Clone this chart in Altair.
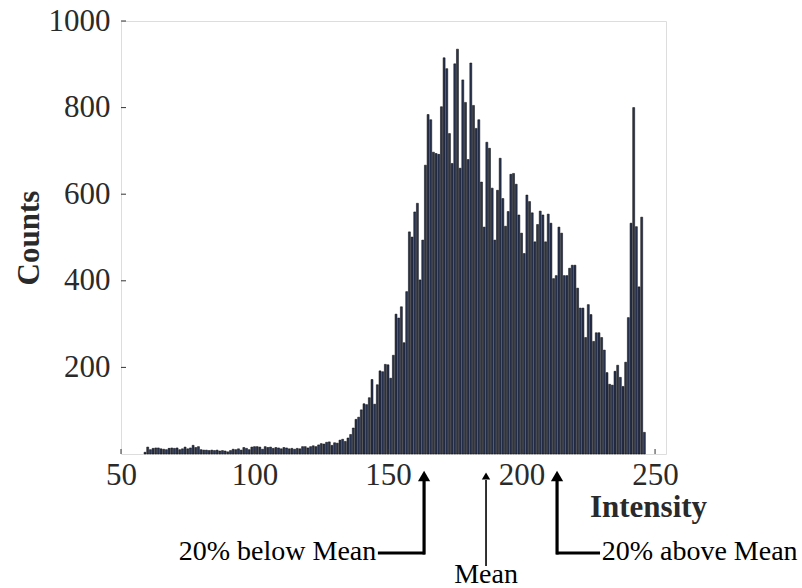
import altair as alt
import pandas as pd

# Intensity bins (integer grey levels) and their counts
intensity = list(range(59, 247))
counts = [
    4, 16, 10, 13, 14, 14, 12, 11, 10, 13, 14, 13, 14, 10, 12, 16, 12, 14, 20, 15,   # 59-78
    17, 10, 9, 9, 8, 9, 8, 9, 7, 8, 7, 5, 8, 11, 10, 12, 9, 15, 13, 10,              # 79-98
    16, 17, 17, 16, 11, 17, 15, 16, 13, 15, 14, 12, 15, 14, 12, 13, 11, 13, 12, 17,  # 99-118
    17, 14, 17, 19, 17, 21, 24, 23, 27, 28, 20, 26, 25, 32, 34, 29, 37, 45, 60, 80,  # 119-138
    85, 102, 116, 114, 130, 172, 115, 160, 192, 190, 207, 206, 175, 228, 323, 314,   # 139-154
    340, 257, 375, 513, 501, 559, 579, 402, 494, 667, 784, 772, 697, 694, 692, 802,  # 155-170
    915, 890, 740, 671, 901, 935, 660, 864, 812, 680, 903, 805, 752, 772, 628, 524,  # 171-186
    720, 706, 614, 494, 609, 683, 590, 526, 560, 646, 648, 623, 552, 510, 463, 598,  # 187-202
    583, 557, 490, 530, 561, 552, 490, 554, 533, 405, 412, 524, 510, 412, 412, 429,  # 203-218
    436, 436, 383, 337, 337, 269, 345, 322, 260, 280, 280, 269, 240, 188, 161, 159,  # 219-234
    191, 205, 177, 156, 212, 315, 533, 800, 525, 386, 547, 50,                        # 235-246
]

x_ticks = [50, 100, 150, 200, 250]
y_ticks = [200, 400, 600, 800, 1000]
x_domain = [50, 254.1]
y_domain = [0, 1000]

# annotation arrows (intensity positions) and their labels
arrow_x = [163.5, 186.7, 213.3]
arrow_labels = ["20% below Mean", "Mean", "20% above Mean"]
label_x = [145.6, 186.7, 230.0]

W, H = 545, 433
TOP = 21
FONT = "Liberation Serif"

df = pd.DataFrame({"intensity": intensity, "count": counts})

xscale = alt.Scale(domain=x_domain, nice=False, zero=False)
yscale = alt.Scale(domain=y_domain, nice=False)

bars = alt.Chart(df).transform_calculate(
    lo="datum.intensity - 0.37", hi="datum.intensity + 0.37"
).mark_bar(fill="#2b3654", stroke="#000000", strokeWidth=0.5).encode(
    x=alt.X("lo:Q", scale=xscale,
            axis=alt.Axis(values=x_ticks, ticks=False, domain=False, grid=False,
                          labelFont=FONT, labelFontSize=31, labelColor="#2a2a2a",
                          labelPadding=6, labelFlush=False,
                          title="Intensity", titleFont=FONT, titleFontSize=31,
                          titleFontWeight="bold", titleColor="#2a2a2a",
                          titleX=527, titleY=62, titleAlign="center",
                          titleBaseline="alphabetic")),
    x2="hi:Q",
    y=alt.Y("count:Q", scale=yscale,
            axis=alt.Axis(values=y_ticks, ticks=False, domain=False, grid=False,
                          format="d",
                          labelFont=FONT, labelFontSize=31, labelColor="#2a2a2a",
                          labelPadding=11, labelFlush=False,
                          title="Counts", titleFont=FONT, titleFontSize=31,
                          titleFontWeight="bold", titleColor="#2a2a2a",
                          titleX=-92, titleY=H / 2, titleAlign="center",
                          titleBaseline="middle", titleAngle=270)),
    y2=alt.datum(0),
)

ytick_df = pd.DataFrame({"v": y_ticks})
xtick_df = pd.DataFrame({"v": x_ticks})

yticks = alt.Chart(ytick_df).mark_rule(color="#333333", strokeWidth=1).encode(
    y=alt.Y("v:Q", scale=yscale), x=alt.value(0), x2=alt.value(5))
xticks = alt.Chart(xtick_df).mark_rule(color="#333333", strokeWidth=1).encode(
    x=alt.X("v:Q", scale=xscale), y=alt.value(H), y2=alt.value(H - 5))


def shaft(ax, y_bottom, width):
    return alt.Chart(pd.DataFrame({"ax": [ax]})).mark_rule(
        color="black", strokeWidth=width, clip=False).encode(
        x=alt.X("ax:Q", scale=xscale), y=alt.value(480 - TOP), y2=alt.value(y_bottom - TOP))


def head(ax, size):
    return alt.Chart(pd.DataFrame({"ax": [ax]})).mark_point(
        shape="triangle-up", filled=True, color="black", opacity=1, size=size,
        clip=False).encode(x=alt.X("ax:Q", scale=xscale), y=alt.value(476 - TOP))


def hline(a, b):
    return alt.Chart(pd.DataFrame({"a": [a], "b": [b]})).mark_rule(
        color="black", strokeWidth=3.2, clip=False).encode(
        x=alt.X("a:Q", scale=xscale), x2="b:Q", y=alt.value(553 - TOP))


def label(i, align, ypix):
    return alt.Chart(pd.DataFrame({"lx": [label_x[i]], "t": [arrow_labels[i]]})).mark_text(
        font=FONT, fontSize=28, color="black", align=align, baseline="middle",
        clip=False).encode(
        x=alt.X("lx:Q", scale=xscale), y=alt.value(ypix - TOP), text="t:N")


chart = alt.layer(
    bars, yticks, xticks,
    shaft(arrow_x[0], 554.5, 3.2), shaft(arrow_x[1], 566, 1.6), shaft(arrow_x[2], 554.5, 3.2),
    head(arrow_x[0], 150), head(arrow_x[1], 70), head(arrow_x[2], 150),
    hline(label_x[0] + 0.6, arrow_x[0] + 0.3), hline(arrow_x[2] - 0.3, label_x[2] - 0.6),
    label(0, "right", 552), label(1, "center", 575), label(2, "left", 552),
).properties(
    width=W, height=H,
    autosize=alt.AutoSizeParams(type="none"),
    padding={"left": 121, "top": TOP, "right": 802 - 121 - W, "bottom": 588 - TOP - H},
).configure_view(stroke="#222222", strokeWidth=1.3).configure(background="white")

chart.save("out.html", embed_options={"renderer": "svg", "actions": False})
